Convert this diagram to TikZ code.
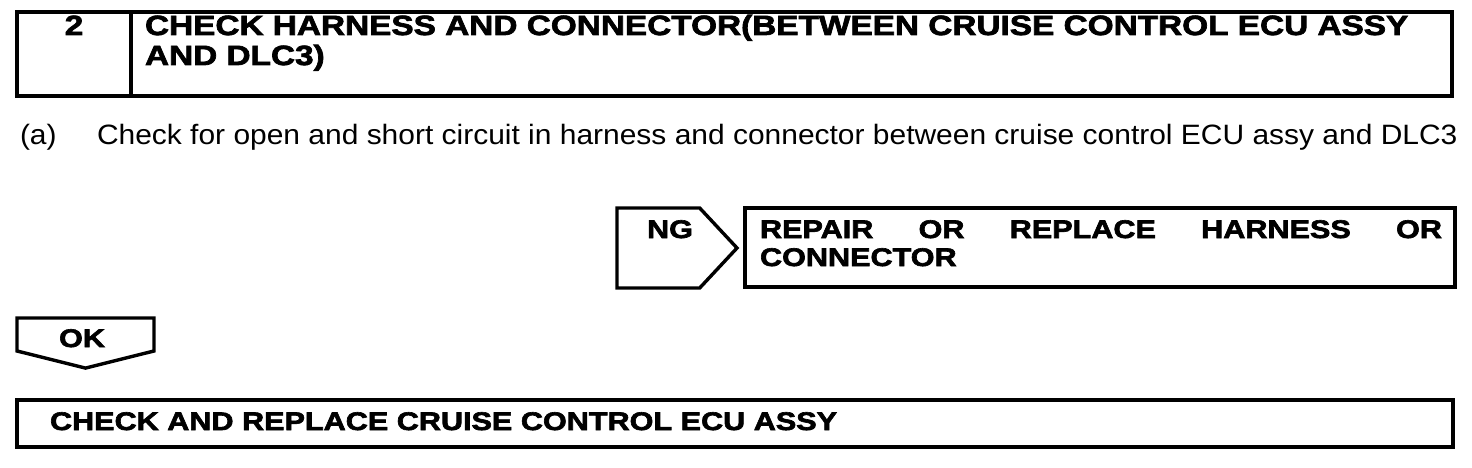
\documentclass[tikz,border=0pt]{standalone}
\usepackage{fontspec}
\usetikzlibrary{shapes.symbols,positioning}
\setmainfont[FakeStretch=1.07]{Liberation Sans}
\newfontfamily\hdfont[FakeStretch=1.2,BoldFeatures={FakeBold=2.5}]{Liberation Sans}

\begin{document}
\begin{tikzpicture}[x=1pt,y=-1pt,every node/.style={inner sep=0pt,outer sep=0pt},
  box/.style={draw,line width=3.4pt,rectangle,anchor=north west},
  tag/.style={draw,line width=3.4pt,shape=signal},
  head/.style={font=\hdfont\bfseries\fontsize{27.8}{30}\selectfont},
  bold/.style={font=\hdfont\bfseries\fontsize{25.5}{28}\selectfont},
  plain/.style={font=\fontsize{28}{30}\selectfont}]
\useasboundingbox (0,0) rectangle (1472,468);
% step header
\node[box,minimum width=114pt,minimum height=84pt] (num) at (17,12) {};
\node[box,minimum width=1321pt,minimum height=84pt] (ttl) at (131,12) {};
\node[head,anchor=base] (numtx) at (74,35) {2};
\node[head,anchor=base west] (ttl1) at (145,35) {CHECK HARNESS AND CONNECTOR(BETWEEN CRUISE CONTROL ECU ASSY};
\node[head,anchor=base west] (ttl2) at (145,65) {AND DLC3)};
% instruction
\node[plain,anchor=base west] (lbl) at (20,144) {(a)};
\node[plain,anchor=base west] (chk) at (97,144) {Check for open and short circuit in harness and connector between cruise control ECU assy and DLC3};
% NG branch
\node[tag,signal to=east,signal pointer angle=94,minimum width=120pt,minimum height=80pt,anchor=west] (ng) at (617,248) {};
\node[bold,anchor=base] (ngtx) at (670,238) {NG};
\node[box,minimum width=710pt,minimum height=79pt] (rep) at (745,208) {};
\node[bold,anchor=base west] (rep1) at (760,238) {\makebox[682pt][s]{REPAIR OR REPLACE HARNESS OR}};
\node[bold,anchor=base west] (rep2) at (760,266) {CONNECTOR};
% OK branch
\node[tag,signal to=south,signal pointer angle=152,minimum width=137pt,minimum height=33pt,anchor=north west] (ok) at (17,318) {};
\node[bold,anchor=base] (oktx) at (82,347) {OK};
\node[box,minimum width=1436pt,minimum height=47pt] (fin) at (17,400) {};
\node[bold,anchor=base west] (fintx) at (50,430) {CHECK AND REPLACE CRUISE CONTROL ECU ASSY};
\end{tikzpicture}
\end{document}
